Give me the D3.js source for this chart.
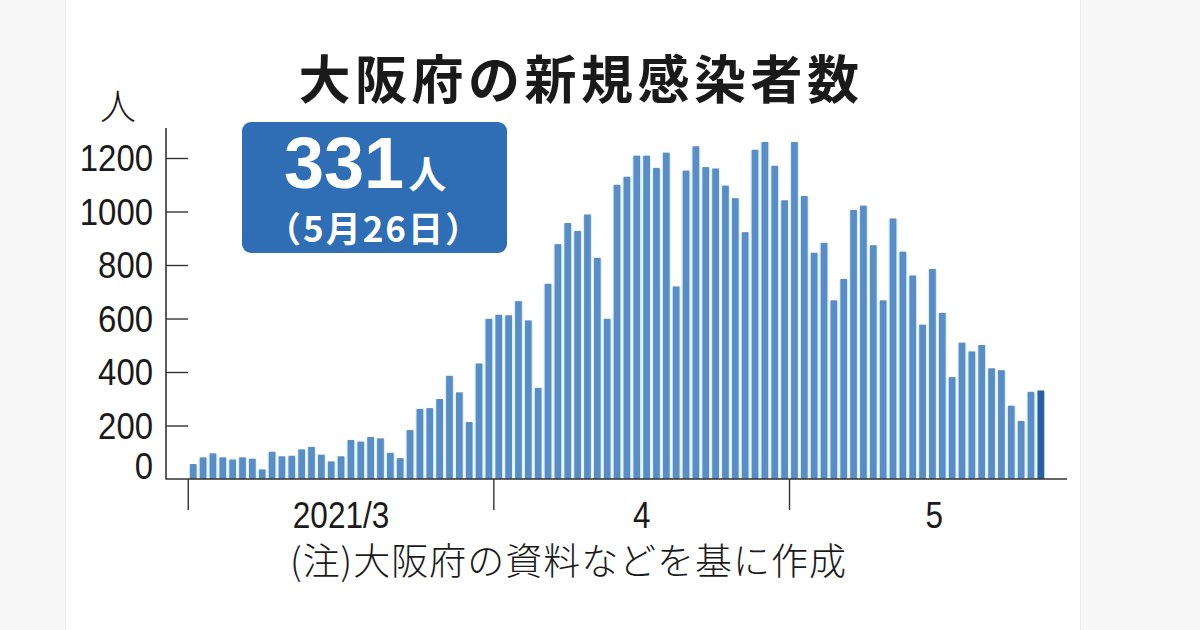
<!DOCTYPE html>
<html><head><meta charset="utf-8">
<script src="https://cdn.jsdelivr.net/npm/d3@7"></script>
<style>
html,body{margin:0;padding:0;background:#f7f7f7;}
svg{display:block;}
</style></head>
<body>
<svg id="c" width="1200" height="630"></svg>
<script>
// ---- data ----
const title = "大阪府の新規感染者数";
const unitLabel = "人";
const badgeValue = "331";
const badgeUnit = "人";
const badgeDate = "（5月26日）";
const note = "(注)大阪府の資料などを基に作成";
const monthLabels = ["2021/3", "4", "5"];
const yTicks = [0, 200, 400, 600, 800, 1000, 1200];
const marchValues = [56,81,96,81,73,81,76,36,102,85,87,111,120,91,66,85,146,140,157,152,98,78,183,262,265,299,386,324,213,432,599];
const aprilValues = [614,612,665,593,341,730,878,957,927,989,827,599,1100,1130,1209,1209,1163,1220,720,1153,1244,1166,1161,1097,1050,923,1231,1260,1171,1042];
const mayValues = [1260,1058,846,883,668,748,1006,1022,874,668,974,850,761,577,785,621,381,510,477,501,414,407,274,217,326,331];

// ---- build table ----
const monthSeries = [marchValues, aprilValues, mayValues];
const days = [];
monthSeries.forEach((vals, m) => vals.forEach((v, i) => days.push({month: m, day: i + 1, key: (m + 3) + "/" + (i + 1), value: v})));

const svg = d3.select("#c");
const JP = "'Noto Sans CJK JP','Noto Sans',sans-serif";
const NUM = "'Liberation Sans',Arial,sans-serif";

// white panel
svg.append("rect").attr("x", 65).attr("y", 0).attr("width", 1016).attr("height", 630).attr("fill", "#fff");
svg.append("line").attr("x1", 65.5).attr("x2", 65.5).attr("y1", 0).attr("y2", 630).attr("stroke", "#ececec");
svg.append("line").attr("x1", 1080.5).attr("x2", 1080.5).attr("y1", 0).attr("y2", 630).attr("stroke", "#ececec");

const x0 = 188.3, step = 9.856;
const x = d3.scaleBand().domain(days.map(d => d.key))
  .range([x0, x0 + step * days.length]).paddingInner(0.32).paddingOuter(0.16);
const y = d3.scaleLinear().domain([0, 1200]).range([479, 158]);
const pad = x.step() * x.paddingInner() / 2;

// bars: pale fringe + bar
const g = svg.append("g");
g.selectAll("rect.fr").data(days).join("rect").attr("class", "fr")
  .attr("x", d => x(d.key) - 1.2).attr("width", x.bandwidth() + 2.4)
  .attr("y", d => y(d.value) + 1).attr("height", d => y(0) - y(d.value) - 1)
  .attr("fill", "#d6f1fb");
g.selectAll("rect.bar").data(days).join("rect").attr("class", "bar")
  .attr("x", d => x(d.key)).attr("width", x.bandwidth())
  .attr("y", d => y(d.value)).attr("height", d => y(0) - y(d.value))
  .attr("fill", (d, i) => i === days.length - 1 ? "#2c5e9f" : "#5b8cc3");

// y axis
const axisColor = "#333";
const yAxis = svg.append("g").attr("transform", "translate(166,0)")
  .call(d3.axisRight(y).tickValues(yTicks.filter(t => t > 0)).tickSize(22).tickFormat(""));
yAxis.select(".domain").remove();
yAxis.selectAll("line").attr("stroke", axisColor).attr("stroke-width", 1.4);
svg.append("line").attr("x1", 166).attr("x2", 166).attr("y1", 128).attr("y2", 479.5)
  .attr("stroke", axisColor).attr("stroke-width", 1.6);
svg.append("g").selectAll("text").data(yTicks).join("text")
  .attr("x", 153).attr("y", d => d === 0 ? y(d) - 13 : y(d))
  .attr("dy", "0.36em").attr("text-anchor", "end")
  .attr("font-family", NUM).attr("font-size", 37).attr("fill", "#1a1a1a")
  .attr("textLength", d => String(d).length * 18.3).attr("lengthAdjust", "spacingAndGlyphs")
  .text(d => d);
svg.append("text").attr("x", 118).attr("y", 120).attr("text-anchor", "middle")
  .attr("font-family", JP).attr("font-size", 36).attr("font-weight", 300).attr("fill", "#1a1a1a")
  .text(unitLabel);

// x axis
svg.append("line").attr("x1", 166).attr("x2", 1067).attr("y1", 479).attr("y2", 479)
  .attr("stroke", axisColor).attr("stroke-width", 1.6);
const monthStarts = monthLabels.map((m, i) => x(days.find(d => d.month === i && d.day === 1).key) - pad);
const xEnd = 1067;
svg.append("g").selectAll("line").data(monthStarts).join("line")
  .attr("x1", d => d).attr("x2", d => d).attr("y1", 479).attr("y2", 510)
  .attr("stroke", axisColor).attr("stroke-width", 1.4);
svg.append("g").selectAll("text").data(monthLabels).join("text")
  .attr("x", (d, i) => i < monthStarts.length - 1 ? (monthStarts[i] + monthStarts[i + 1]) / 2 : (monthStarts[i] + xEnd + 12) / 2)
  .attr("y", 528).attr("text-anchor", "middle")
  .attr("font-family", NUM).attr("font-size", 36).attr("fill", "#1a1a1a")
  .attr("textLength", d => d.replace("/", "").length * 17.5 + (d.includes("/") ? 9 : 0))
  .attr("lengthAdjust", "spacingAndGlyphs")
  .text(d => d);

// title
svg.append("text").attr("x", 581).attr("y", 99).attr("text-anchor", "middle")
  .attr("font-family", JP).attr("font-size", 52).attr("font-weight", 700)
  .attr("letter-spacing", 4.5).attr("fill", "#1a1a1a").text(title);

// badge
svg.append("rect").attr("x", 242).attr("y", 122).attr("width", 265).attr("height", 131)
  .attr("rx", 9).attr("fill", "#2f6db5");
const bt = svg.append("text").attr("x", 284).attr("y", 188).attr("fill", "#fff");
bt.append("tspan").attr("font-family", NUM).attr("font-weight", 700)
  .attr("font-size", 72).text(badgeValue);
bt.append("tspan").attr("dx", 4).attr("font-family", JP).attr("font-weight", 700)
  .attr("font-size", 38).text(badgeUnit);
svg.append("text").attr("x", 374).attr("y", 242).attr("text-anchor", "middle")
  .attr("font-family", JP).attr("font-weight", 700).attr("font-size", 35).attr("fill", "#fff")
  .attr("letter-spacing", 2)
  .text(badgeDate);

// note
svg.append("text").attr("x", 568).attr("y", 575).attr("text-anchor", "middle")
  .attr("font-family", JP).attr("font-size", 37).attr("font-weight", 300).attr("fill", "#1a1a1a")
  .attr("textLength", 556).attr("lengthAdjust", "spacing")
  .text(note);
</script>
</body></html>
